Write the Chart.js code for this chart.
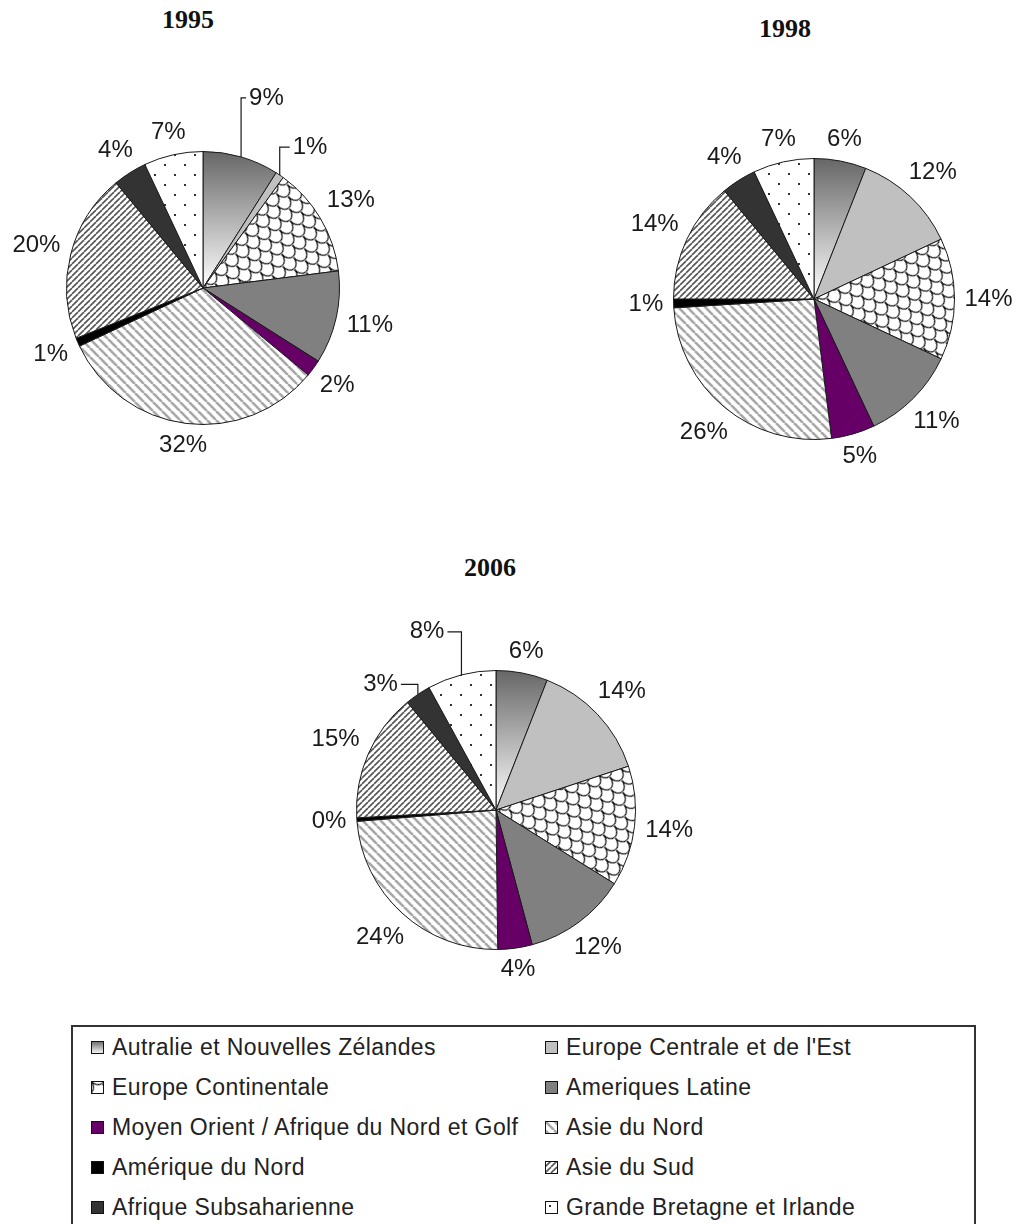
<!DOCTYPE html>
<html>
<head>
<meta charset="utf-8">
<script src="https://cdn.jsdelivr.net/npm/chart.js@4.4.1/dist/chart.umd.min.js"></script>
<style>
    html, body { margin: 0; padding: 0; background: #fff; }
    #page { position: relative; width: 1024px; height: 1224px; overflow: hidden; font-family: "Liberation Sans", Arial, sans-serif; }
    .pie { position: absolute; }
    .titre { position: absolute; font: bold 26px "Liberation Serif", "Times New Roman", serif; color: #111; transform: translate(-50%, -50%); }
    #legende { position: absolute; left: 71px; top: 1025px; width: 901px; height: 240px; border: 2px solid #333; }
    .item { position: absolute; display: flex; align-items: center; height: 30px; font-size: 23px; letter-spacing: 0.4px; color: #222; white-space: nowrap; }
    .item canvas { margin-right: 8px; }
</style>
</head>
<body>
<div id="page">
    <div class="titre" style="left:188px;top:20px">1995</div>
    <div class="titre" style="left:785px;top:29px">1998</div>
    <div class="titre" style="left:490px;top:568px">2006</div>
    <canvas id="c1995" class="pie" style="left:0px;top:60px" width="406" height="456"></canvas>
    <canvas id="c1998" class="pie" style="left:614px;top:99px" width="400" height="400"></canvas>
    <canvas id="c2006" class="pie" style="left:296px;top:610px" width="400" height="400"></canvas>
    <div id="legende"></div>
</div>
<script>
'use strict';

// Régions (ordre des parts, dans le sens horaire depuis midi)
const regions = [
    'Autralie et Nouvelles Zélandes',
    'Europe Centrale et de l\'Est',
    'Europe Continentale',
    'Ameriques Latine',
    'Moyen Orient / Afrique du Nord et Golf',
    'Asie du Nord',
    'Amérique du Nord',
    'Asie du Sud',
    'Afrique Subsaharienne',
    'Grande Bretagne et Irlande'
];

// Parts en %
const parts1995 = [9, 1, 13, 11, 2, 32, 1, 20, 4, 7];
const parts1998 = [6, 12, 14, 11, 5, 26, 1, 14, 4, 7];
const parts2006 = [6, 14, 14, 12, 4, 24, 0.4, 15, 3, 8];

const POLICE = '"Liberation Sans", Arial, sans-serif';

// Petit canvas hors écran pour les motifs
function tuile(w, h, dessin) {
    const c = document.createElement('canvas');
    c.width = w;
    c.height = h;
    const g = c.getContext('2d');
    dessin(g, w, h);
    return g.createPattern(c, 'repeat');
}

// Rayures diagonales ; sens = 1 pour "\" , -1 pour "/"
function rayures(couleur, pas, epaisseur, sens) {
    return tuile(pas, pas, (g, w, h) => {
        g.fillStyle = '#fff';
        g.fillRect(0, 0, w, h);
        g.strokeStyle = couleur;
        g.lineWidth = epaisseur;
        for (let k = -1; k <= 1; k++) {
            g.beginPath();
            if (sens > 0) {
                g.moveTo(k * w, 0);
                g.lineTo(k * w + w, h);
            } else {
                g.moveTo(k * w, h);
                g.lineTo(k * w + w, 0);
            }
            g.stroke();
        }
    });
}

// Motif "écailles" pour l'Europe Continentale
const ecailles = tuile(14, 20, (g) => {
    g.fillStyle = '#fff';
    g.fillRect(0, 0, 14, 20);
    g.strokeStyle = '#111';
    g.lineWidth = 1.2;
    [[7, 0], [0, 10], [14, 10], [7, 20], [0, -10], [14, -10]].forEach(([x, y]) => {
        g.beginPath();
        g.ellipse(x, y, 7, 9, 0, 0, Math.PI);
        g.stroke();
    });
});
ecailles.setTransform(new DOMMatrix().rotateSelf(-40));

// Points pour la Grande Bretagne
const points = tuile(20, 20, (g) => {
    g.fillStyle = '#fff';
    g.fillRect(0, 0, 20, 20);
    g.fillStyle = '#333';
    g.fillRect(4, 4, 2, 2);
    g.fillRect(14, 14, 2, 2);
});

const motifs = [
    null, // dégradé, calculé plus bas
    '#c0c0c0',
    ecailles,
    '#808080',
    '#660066',
    rayures('#a8a8a8', 9, 2.6, 1),
    '#000000',
    rayures('#555555', 6, 1.6, -1),
    '#333333',
    points
];

// Dégradé gris -> blanc du haut du camembert vers le centre
function degrade(ctx, haut, bas) {
    const g = ctx.createLinearGradient(0, haut, 0, bas);
    g.addColorStop(0, '#666666');
    g.addColorStop(1, '#ffffff');
    return g;
}

function remplissage(context) {
    const i = context.dataIndex;
    if (i !== 0) return motifs[i];
    const a = context.chart.chartArea;
    if (!a) return '#999';
    const cy = (a.top + a.bottom) / 2;
    const r = Math.min(a.width, a.height) / 2;
    return degrade(context.chart.ctx, cy - r, cy);
}

// Étiquettes % à l'extérieur, avec traits de renvoi éventuels
const etiquettes = {
    id: 'etiquettes',
    afterDatasetsDraw(chart, args, opts) {
        const ctx = chart.ctx;
        const meta = chart.getDatasetMeta(0);
        const data = chart.data.datasets[0].data;
        const renvois = opts.renvois || {};
        ctx.save();
        ctx.font = '24px ' + POLICE;
        ctx.fillStyle = '#1a1a1a';
        ctx.strokeStyle = '#1a1a1a';
        ctx.lineWidth = 1.2;
        ctx.textBaseline = 'middle';
        meta.data.forEach((arc, i) => {
            const txt = Math.round(data[i]) + '%';
            const ang = (arc.startAngle + arc.endAngle) / 2;
            const r = arc.outerRadius;
            const cos = Math.cos(ang), sin = Math.sin(ang);
            const w = ctx.measureText(txt).width;
            const h = 18;
            const px = arc.x + cos * r, py = arc.y + sin * r;
            if (renvois[i]) {
                const [dx, dy] = renvois[i];
                const tx = px + dx, ty = py + dy;
                ctx.beginPath();
                ctx.moveTo(px, py);
                ctx.lineTo(px, ty);
                ctx.lineTo(tx - Math.sign(dx) * 3, ty);
                ctx.stroke();
                ctx.textAlign = dx > 0 ? 'left' : 'right';
                ctx.fillText(txt, tx, ty);
            } else {
                const d = r + opts.ecart + Math.abs(cos) * w / 2 + Math.abs(sin) * h / 2;
                ctx.textAlign = 'center';
                ctx.fillText(txt, arc.x + cos * d, arc.y + sin * d);
            }
        });
        ctx.restore();
    }
};

function creerCamembert(id, parts, padX, padY, renvois) {
    return new Chart(document.getElementById(id), {
        type: 'pie',
        data: {
            labels: regions,
            datasets: [{
                data: parts,
                backgroundColor: remplissage,
                borderColor: '#1a1a1a',
                borderWidth: 1
            }]
        },
        options: {
            responsive: false,
            animation: false,
            layout: {
                padding: { left: padX, right: padX, top: padY, bottom: padY }
            },
            plugins: {
                legend: { display: false },
                tooltip: { enabled: false },
                etiquettes: { ecart: 10, renvois: renvois }
            }
        },
        plugins: [etiquettes]
    });
}

creerCamembert('c1995', parts1995, 66, 91, { 0: [8, -59], 1: [13, -28] });
creerCamembert('c1998', parts1998, 59, 59, {});
creerCamembert('c2006', parts2006, 60, 60, { 9: [-17, -43], 8: [-20, -10] });

// Légende commune
const legende = document.getElementById('legende');
regions.forEach((nom, k) => {
    const item = document.createElement('div');
    item.className = 'item';
    item.style.left = (k % 2 === 0 ? 18 : 472) + 'px';
    item.style.top = (5 + Math.floor(k / 2) * 40) + 'px';
    const c = document.createElement('canvas');
    c.width = 13;
    c.height = 13;
    const g = c.getContext('2d');
    g.fillStyle = k === 0 ? degrade(g, 0, 13) : motifs[k];
    g.fillRect(0, 0, 13, 13);
    g.strokeStyle = '#111';
    g.lineWidth = 1;
    g.strokeRect(0.5, 0.5, 12, 12);
    item.appendChild(c);
    const t = document.createElement('span');
    t.textContent = nom;
    item.appendChild(t);
    legende.appendChild(item);
});
</script>
</body>
</html>
